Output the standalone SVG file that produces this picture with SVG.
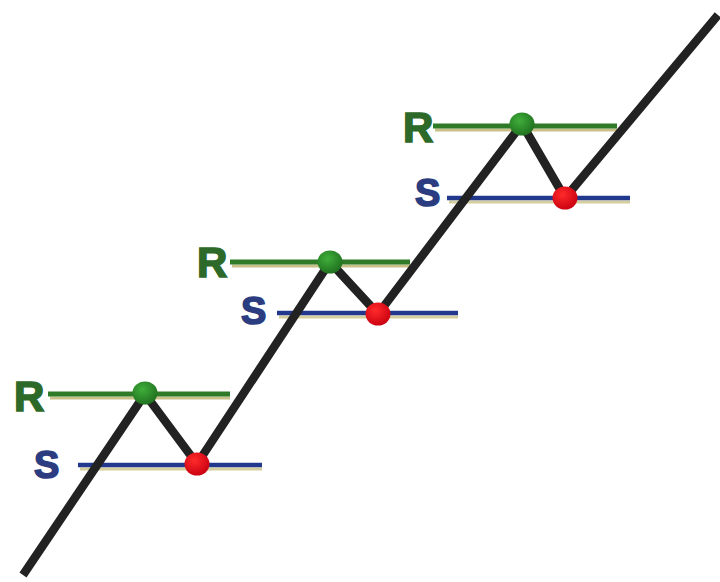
<svg xmlns="http://www.w3.org/2000/svg" width="720" height="582" viewBox="0 0 720 582">
<defs>
<radialGradient id="gg" cx="0.4" cy="0.35" r="0.7">
<stop offset="0" stop-color="#3fae3a"/>
<stop offset="1" stop-color="#1f6e1e"/>
</radialGradient>
<radialGradient id="rg" cx="0.4" cy="0.35" r="0.7">
<stop offset="0" stop-color="#ff2a2a"/>
<stop offset="1" stop-color="#c80010"/>
</radialGradient>
</defs>
<style>
.rl{stroke:#2f7a27;stroke-width:5;fill:none}
.rs{stroke:#b9b06a;stroke-width:3;fill:none;opacity:0.8}
.sl{stroke:#22388c;stroke-width:4.5;fill:none}
.ss{stroke:#c9c184;stroke-width:3;fill:none;opacity:0.8}
.rt{font-family:"Liberation Sans",Arial,sans-serif;font-weight:bold;font-size:42px;fill:#2d6a2a;stroke:#2d6a2a;stroke-width:1.6}
.st{font-family:"Liberation Sans",Arial,sans-serif;font-weight:bold;font-size:38px;fill:#2b3d80;stroke:#2b3d80;stroke-width:1.6}
.trend{stroke:#222;stroke-width:8.5;fill:none;stroke-linejoin:round}
.gd{fill:url(#gg)}
.rd{fill:url(#rg)}
</style>
<rect width="720" height="582" fill="#ffffff"/>
<g id="levels">
<g id="level1">
<line class="rs" x1="50" y1="398" x2="230" y2="398"/>
<line class="rl" x1="48" y1="394" x2="230" y2="394"/>
<line class="ss" x1="80" y1="469" x2="262" y2="469"/>
<line class="sl" x1="78" y1="465" x2="262" y2="465"/>
<text class="rt" x="14" y="411">R</text>
<text class="st" x="34" y="478">S</text>
</g>
<g id="level2">
<line class="rs" x1="232" y1="266" x2="410" y2="266"/>
<line class="rl" x1="230" y1="262" x2="410" y2="262"/>
<line class="ss" x1="279" y1="317" x2="458" y2="317"/>
<line class="sl" x1="277" y1="313" x2="458" y2="313"/>
<text class="rt" x="197" y="277">R</text>
<text class="st" x="241" y="324">S</text>
</g>
<g id="level3">
<line class="rs" x1="435" y1="130" x2="617" y2="130"/>
<line class="rl" x1="433" y1="126" x2="617" y2="126"/>
<line class="ss" x1="449" y1="202" x2="630" y2="202"/>
<line class="sl" x1="447" y1="198" x2="630" y2="198"/>
<text class="rt" x="403" y="142">R</text>
<text class="st" x="415" y="206">S</text>
</g>
</g>
<g id="connectors">
<path class="trend" d="M23,575 L145,394 L197,464 L330,262 L378,314 L522,124 L565,198 L718,15"/>
</g>
<g id="points">
<ellipse id="r1" class="gd" cx="145" cy="393" rx="12.5" ry="11.5"/>
<ellipse id="s1" class="rd" cx="197" cy="464" rx="12.5" ry="11.5"/>
<ellipse id="r2" class="gd" cx="330" cy="262" rx="12.5" ry="11.5"/>
<ellipse id="s2" class="rd" cx="378" cy="314" rx="12.5" ry="11.5"/>
<ellipse id="r3" class="gd" cx="522" cy="124" rx="12.5" ry="11.5"/>
<ellipse id="s3" class="rd" cx="565" cy="198" rx="12.5" ry="11.5"/>
</g>
</svg>
